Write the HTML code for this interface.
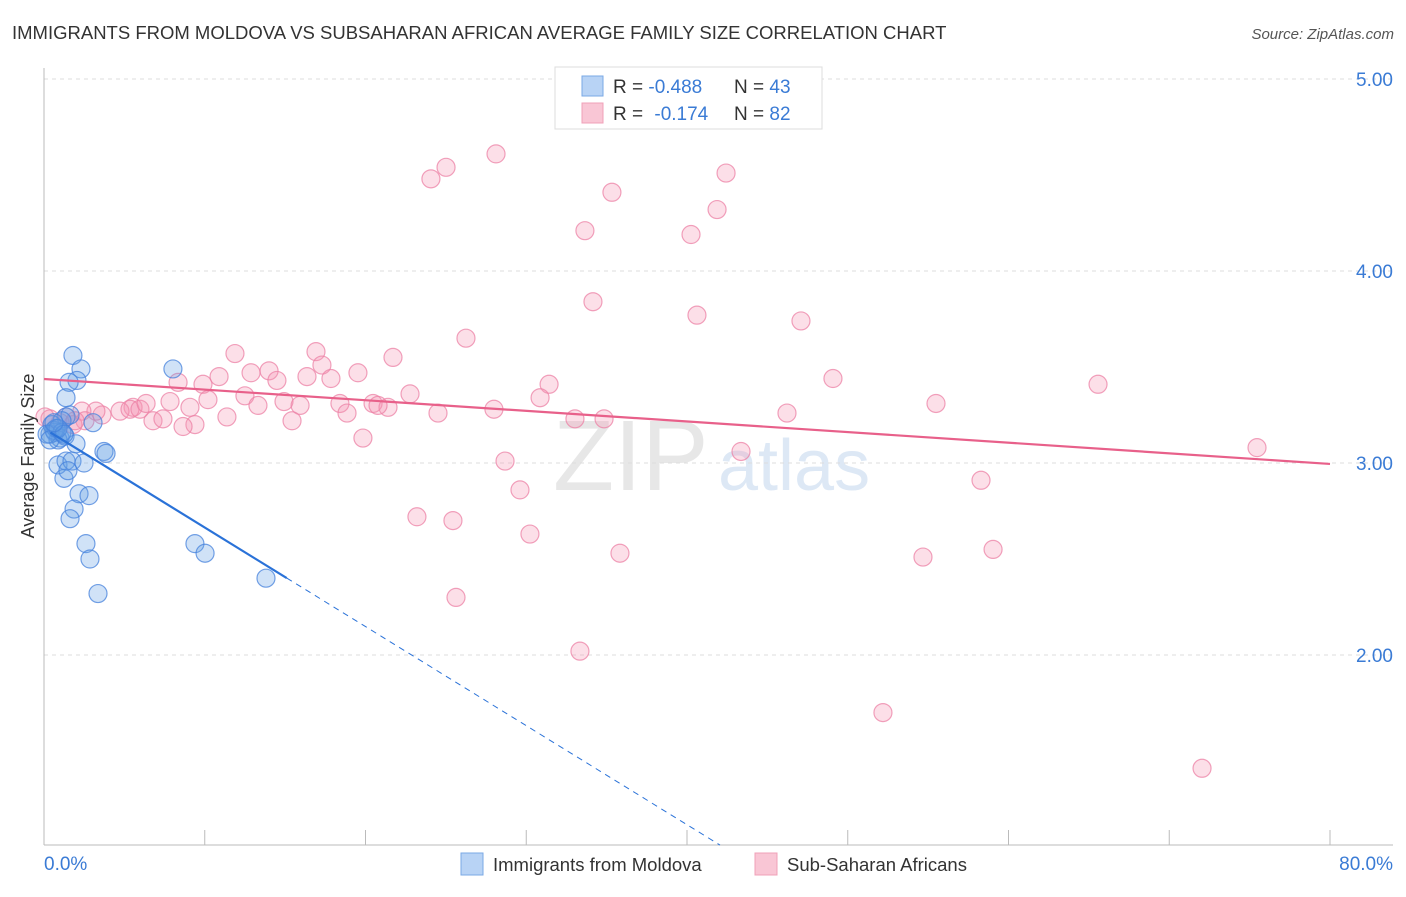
<!DOCTYPE html>
<html><head><meta charset="utf-8"><style>
body{margin:0;background:#fff;font-family:"Liberation Sans",sans-serif}
svg text{font-family:"Liberation Sans",sans-serif}
</style></head><body>
<svg width="1406" height="892" viewBox="0 0 1406 892">
<text x="12" y="39" font-size="18.5" fill="#333">IMMIGRANTS FROM MOLDOVA VS SUBSAHARAN AFRICAN AVERAGE FAMILY SIZE CORRELATION CHART</text>
<text x="1394" y="39" font-size="15" fill="#555" font-style="italic" text-anchor="end">Source: ZipAtlas.com</text>
<g><text x="553" y="490" font-size="100" fill="#ddd" font-family="Liberation Serif" opacity="0.7">ZIP</text><text x="718" y="490" font-size="72" fill="#c8daf0" opacity="0.6">atlas</text></g>
<g id="grid"></g>
<g id="axes"></g>
<g id="marks"></g>
<text transform="translate(34,456) rotate(-90)" font-size="18" fill="#333" text-anchor="middle">Average Family Size</text>
<g>
<rect x="555" y="67" width="267" height="62" fill="#fff" stroke="#ddd"/>
<rect x="582" y="76" width="21" height="20" fill="#b8d3f5" stroke="#7aa8e5"/>
<rect x="582" y="103" width="21" height="20" fill="#f9c6d5" stroke="#f0a0b8"/>
<text x="613" y="93" font-size="19" fill="#333">R = <tspan fill="#3a7bd5">-0.488</tspan></text>
<text x="734" y="93" font-size="19" fill="#333">N = <tspan fill="#3a7bd5">43</tspan></text>
<text x="613" y="120" font-size="19" fill="#333">R = <tspan fill="#3a7bd5" dx="6">-0.174</tspan></text>
<text x="734" y="120" font-size="19" fill="#333">N = <tspan fill="#3a7bd5">82</tspan></text>
</g>
<g>
<rect x="461" y="853" width="22" height="22" fill="#b8d3f5" stroke="#7aa8e5"/>
<text x="493" y="871" font-size="18.5" fill="#333">Immigrants from Moldova</text>
<rect x="755" y="853" width="22" height="22" fill="#f9c6d5" stroke="#f0a0b8"/>
<text x="787" y="871" font-size="18.5" fill="#333">Sub-Saharan Africans</text>
</g>
</svg>
<script>
const yTicks=[2,3,4,5];
const yTickLabels=["2.00","3.00","4.00","5.00"];
const xTicks=[0,10,20,30,40,50,60,70,80];
const blueX=[1.80,2.30,2.05,1.56,1.37,1.37,1.62,1.12,0.50,0.68,1.00,1.31,1.99,0.87,8.02,3.05,3.73,3.86,0.87,1.37,1.74,2.49,1.24,1.49,2.18,2.80,1.87,1.62,2.61,2.86,9.39,10.02,3.36,13.81,0.37,0.62,0.75,0.19,0.37,1.12,0.87,1.24,0.62];
const blueY=[3.56,3.49,3.43,3.42,3.34,3.24,3.25,3.22,3.20,3.16,3.13,3.14,3.10,3.12,3.49,3.21,3.06,3.05,2.99,3.01,3.01,3.00,2.92,2.96,2.84,2.83,2.76,2.71,2.58,2.50,2.58,2.53,2.32,2.40,3.15,3.17,3.18,3.15,3.12,3.16,3.18,3.15,3.21];
const pinkX=[24.07,25.01,28.12,35.33,33.65,42.43,41.87,40.25,34.15,40.62,47.09,26.25,11.88,16.92,21.71,14.00,17.29,8.34,9.89,10.89,12.88,14.49,16.36,17.85,19.53,22.77,31.42,49.08,65.57,12.50,7.84,10.20,11.38,13.31,14.93,15.93,18.41,20.47,21.40,18.85,20.78,24.51,27.99,30.86,33.03,34.84,46.22,55.49,15.43,9.08,9.39,8.65,6.78,7.40,5.54,4.73,5.35,5.97,6.35,3.61,3.23,2.36,2.55,1.80,1.37,1.00,0.37,0.06,19.84,28.68,43.36,75.46,29.61,58.29,23.20,25.44,30.23,35.83,54.68,59.04,25.63,33.34,52.19,72.04,1.93];
const pinkY=[4.48,4.54,4.61,4.41,4.21,4.51,4.32,4.19,3.84,3.77,3.74,3.65,3.57,3.58,3.55,3.48,3.51,3.42,3.41,3.45,3.47,3.43,3.45,3.44,3.47,3.36,3.41,3.44,3.41,3.35,3.32,3.33,3.24,3.30,3.32,3.30,3.31,3.31,3.29,3.26,3.30,3.26,3.28,3.34,3.23,3.23,3.26,3.31,3.22,3.29,3.20,3.19,3.22,3.23,3.29,3.27,3.28,3.28,3.31,3.25,3.27,3.27,3.22,3.20,3.24,3.21,3.23,3.24,3.13,3.01,3.06,3.08,2.86,2.91,2.72,2.70,2.63,2.53,2.51,2.55,2.30,2.02,1.70,1.41,3.22];
const blueTrend=[3.18,-0.0516];
const pinkTrend=[3.4375,-0.00553];
const NS="http://www.w3.org/2000/svg";
const sx=v=>44+v*16.075, sy=v=>463-(v-3)*192;
function mk(t,a,p){const e=document.createElementNS(NS,t);for(const k in a)e.setAttribute(k,a[k]);p.appendChild(e);return e;}
const grid=document.getElementById('grid'),axes=document.getElementById('axes'),marks=document.getElementById('marks');
yTicks.forEach((v,i)=>{
 const l=mk('line',{x1:44,x2:1393,y1:sy(v),y2:sy(v),stroke:'#ddd','stroke-dasharray':'4,4'},grid);
 
 
 const t=mk('text',{x:1393,y:sy(v)+7,'font-size':19,fill:'#3a7bd5','text-anchor':'end'},axes);
 t.textContent=yTickLabels[i];
 
 
});
const ya=mk('line',{x1:44,x2:44,y1:68,y2:845,stroke:'#bbb'},axes);


const xa=mk('line',{x1:44,x2:1393,y1:845,y2:845,stroke:'#bbb'},axes);


xTicks.forEach(v=>{const l=mk('line',{x1:sx(v),x2:sx(v),y1:830,y2:845,stroke:'#bbb'},axes);
 
 });
const x0=mk('text',{x:44,y:870,'font-size':19,fill:'#3a7bd5'},axes);x0.textContent='0.0%';


const x1=mk('text',{x:1393,y:870,'font-size':19,fill:'#3a7bd5','text-anchor':'end'},axes);x1.textContent='80.0%';


pinkX.forEach((x,i)=>{const c=mk('circle',{cx:sx(x),cy:sy(pinkY[i]),r:9,fill:'rgba(244,150,180,0.3)',stroke:'rgba(236,130,165,0.75)','stroke-width':1.2},marks);
 
 });
blueX.forEach((x,i)=>{const c=mk('circle',{cx:sx(x),cy:sy(blueY[i]),r:9,fill:'rgba(100,160,230,0.3)',stroke:'rgba(70,130,220,0.75)','stroke-width':1.2},marks);
 
 });
const pl=mk('line',{x1:sx(0),y1:sy(pinkTrend[0]),x2:sx(80),y2:sy(pinkTrend[0]+pinkTrend[1]*80),stroke:'#e8608a','stroke-width':2.2},marks);


const bl=mk('line',{x1:sx(0.4),y1:sy(blueTrend[0]+blueTrend[1]*0.4),x2:sx(15.1),y2:sy(blueTrend[0]+blueTrend[1]*15.1),stroke:'#2a72d8','stroke-width':2.2},marks);


const xe=(1.01-blueTrend[0])/blueTrend[1];
const bd=mk('line',{x1:sx(15.1),y1:sy(blueTrend[0]+blueTrend[1]*15.1),x2:sx(xe),y2:sy(1.01),stroke:'#2a72d8','stroke-width':1,'stroke-dasharray':'6,5'},marks);


</script>
</body></html>
